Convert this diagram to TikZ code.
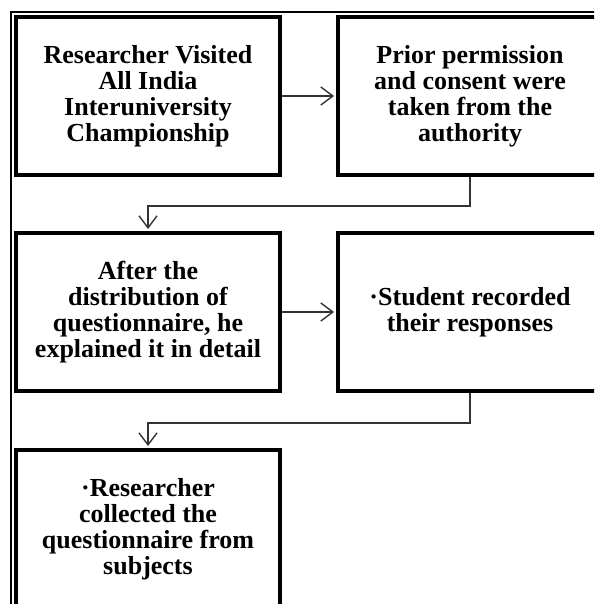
\documentclass[tikz,border=0pt]{standalone}
\usepackage{fontspec}
\setmainfont{Liberation Serif}
\usetikzlibrary{arrows.meta}
\tikzset{
  flowbox/.style={draw=black, line width=4pt, minimum width=264pt, minimum height=158pt,
    inner sep=0pt, align=center, font=\bfseries\fontsize{26}{26}\selectfont},
  conn/.style={draw=black!80, line width=1.4pt,
    -{Straight Barb[length=12pt,width=18pt]}, shorten >=2pt},
  frame/.style={draw=black, line width=1.6pt}
}
\begin{document}
\begin{tikzpicture}[x=1pt,y=-1pt]
\clip (0,0) rectangle (594,604);
\fill[white] (0,0) rectangle (594,604);
\coordinate (fbl) at (11,640);
\coordinate (ftl) at (11,12);
\coordinate (ftr) at (640,12);
\draw[frame] (fbl) -- (ftl) -- (ftr);
\node[flowbox] (b1) at (148,96) {Researcher Visited\\All India\\Interuniversity\\Championship};
\node[flowbox] (b2) at (470,96) {Prior permission\\and consent were\\taken from the\\authority};
\node[flowbox] (b3) at (148,312) {After the\\distribution of\\questionnaire, he\\explained it in detail};
\node[flowbox] (b4) at (470,312) {·Student recorded\\their responses};
\node[flowbox] (b5) at (148,529) {·Researcher\\collected the\\questionnaire from\\subjects};
\draw[conn] (b1.east) -- (b2.west);
\draw[conn] (b2.south) -- ++(0,29) -| (b3.north);
\draw[conn] (b3.east) -- (b4.west);
\draw[conn] (b4.south) -- ++(0,30) -| (b5.north);
\end{tikzpicture}
\end{document}
